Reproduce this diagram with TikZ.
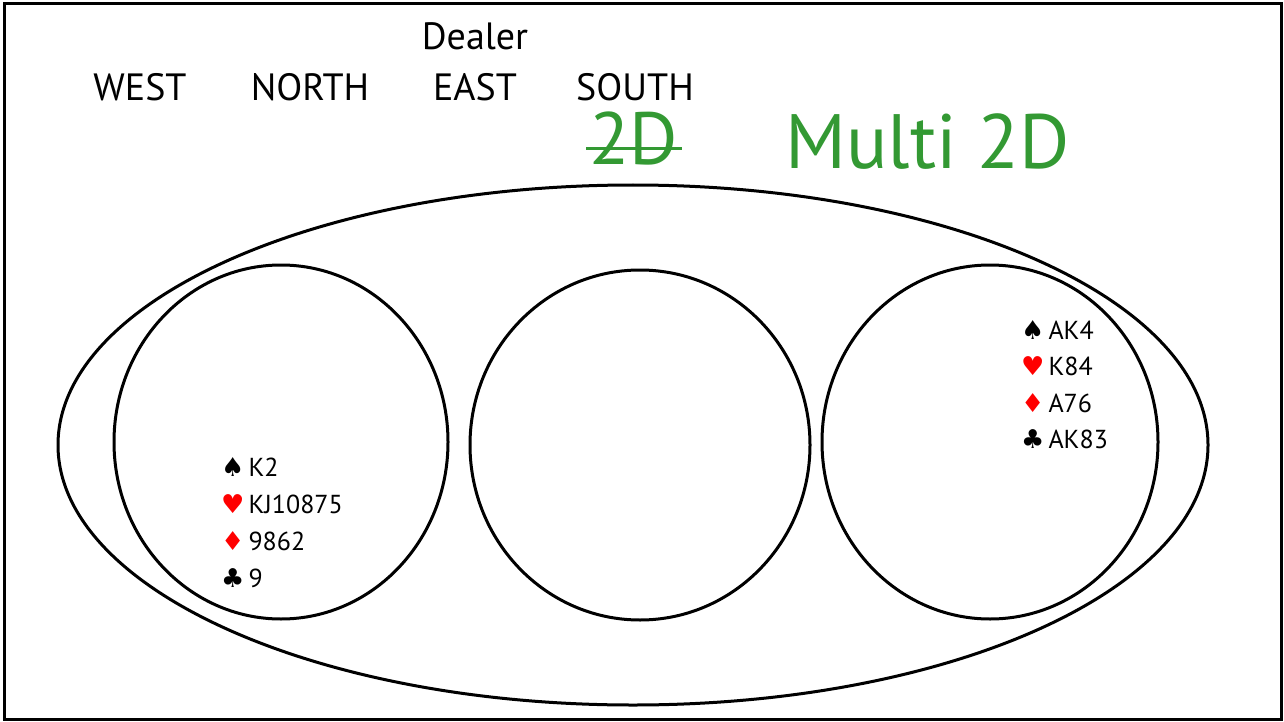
\documentclass[tikz,border=0pt]{standalone}
\usepackage{fontspec}
\setmainfont{PT Sans}
\newfontfamily\suitfont{DejaVu Sans}
\definecolor{bidgreen}{RGB}{51,153,51}
\definecolor{suitred}{RGB}{255,0,0}
\newcommand{\spd}{{\suitfont\char"2660}\kern4pt}
\newcommand{\hrt}{{\color{suitred}\suitfont\char"2665}\kern4pt}
\newcommand{\dmd}{{\color{suitred}\suitfont\char"2666}\kern4pt}
\newcommand{\clb}{{\suitfont\char"2663}\kern4pt}
\tikzset{
  seat/.style={font=\fontsize{38}{38}\selectfont, inner sep=0pt, anchor=base},
  hand/.style={font=\fontsize{26}{26}\selectfont, inner sep=0pt, anchor=base west},
  ring/.style={line width=3pt},
}
\begin{document}
\begin{tikzpicture}[x=1pt,y=-1pt]
	\useasboundingbox (0,0) rectangle (1284,722);
	\draw [line width=3pt] (4,4) rectangle (1281,719);
	
	% table and the three hands
	\draw [ring] (633,445) ellipse [x radius=575, y radius=260];
	\draw [ring] (281,442) ellipse [x radius=167, y radius=177];
	\draw [ring] (640,445) ellipse [x radius=170, y radius=175];
	\draw [ring] (990,442) ellipse [x radius=168, y radius=177];
	
	% seats
	\node [seat] (dealer) at (475,50) {Dealer};
	\node [seat] (west) at (140,101) {WEST};
	\node [seat] (north) at (310,101) {NORTH};
	\node [seat] (east) at (475,101) {EAST};
	\node [seat] (south) at (635,101) {SOUTH};
	
	% bidding
	\node [seat, text=bidgreen, font=\fontsize{74}{74}\selectfont] (bid) at (634,165) {2D};
	\draw [bidgreen, line width=3pt] ([xshift=-3pt]bid.west |- 0,149) -- ([xshift=3pt]bid.east |- 0,149);
	\node [seat, text=bidgreen, font=\fontsize{77}{77}\selectfont, anchor=base west] (multi) at (785,168) {Multi 2D};
	
	% north hand
	\foreach \cards [count=\i] in {{\spd K2},{\hrt KJ10875},{\dmd 9862},{\clb 9}}
		\node [hand] (north\i) at (221,439+37*\i) {\cards};
	% south hand
	\foreach \cards [count=\i] in {{\spd AK4},{\hrt K84},{\dmd A76},{\clb AK83}}
		\node [hand] (south\i) at (1021,302.5+36.5*\i) {\cards};
\end{tikzpicture}
\end{document}
